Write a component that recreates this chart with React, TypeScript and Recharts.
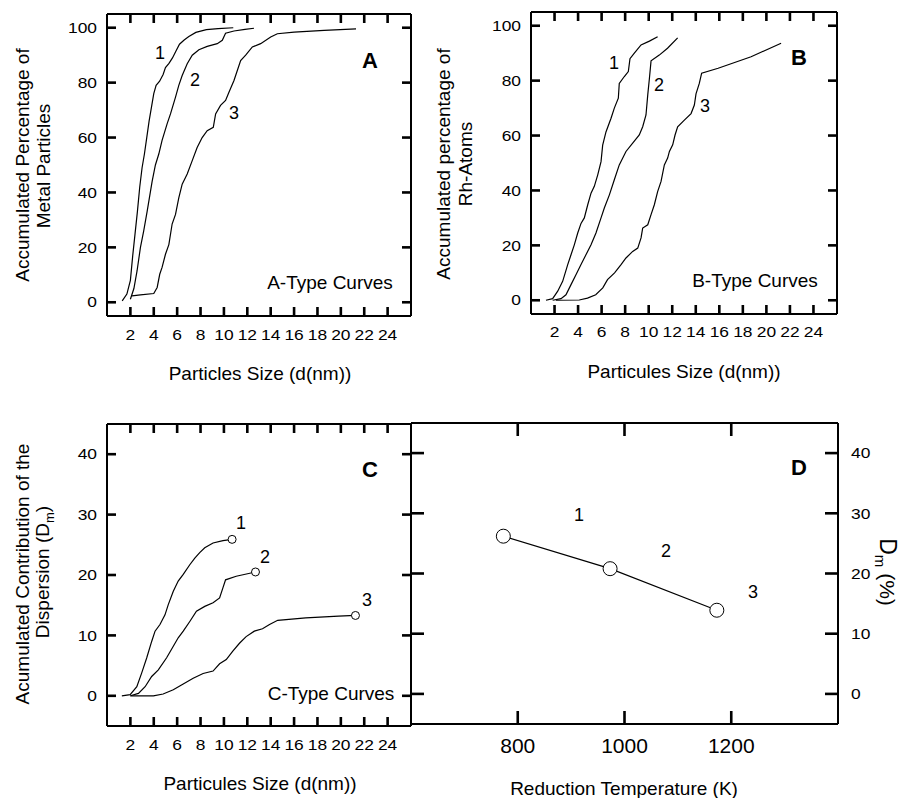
import React from 'react';
import { LineChart, Line, XAxis, YAxis, ReferenceDot } from 'recharts';

type Pt = { x: number; y: number };
const mk = (arr: number[][]): Pt[] => arr.map(([x, y]) => ({ x, y }));

// ---------- tick values ----------
const sizeTicks = [2, 4, 6, 8, 10, 12, 14, 16, 18, 20, 22, 24];
const pctTicks = [0, 20, 40, 60, 80, 100];
const dmTicks = [0, 10, 20, 30, 40];
const tempTicks = [800, 1000, 1200];

// ---------- Panel A : accumulated percentage of metal particles ----------
const aCurve1 = mk([
  [1.3, 0.5], [1.7, 3], [2.0, 8], [2.2, 17], [2.4, 25], [2.6, 33], [2.8, 42], [3.0, 49],
  [3.2, 54], [3.4, 60], [3.6, 66], [3.8, 71], [4.0, 76], [4.2, 79], [4.5, 80.5], [4.8, 83],
  [5.0, 85.5], [5.3, 87], [5.6, 89], [5.9, 91.5], [6.2, 94], [6.6, 95.5], [7.0, 96.8],
  [7.6, 98.3], [8.5, 99.3], [9.5, 99.7], [10.8, 100],
]);
const aCurve2 = mk([
  [2.0, 1.1], [2.3, 5], [2.57, 11.4], [2.86, 20], [3.14, 26], [3.43, 33], [3.86, 44],
  [4.14, 50], [4.43, 54], [4.71, 59], [5.14, 65], [5.43, 68.6], [5.86, 74.7], [6.14, 79],
  [6.43, 82.6], [6.86, 86.9], [7.29, 90], [7.86, 92], [8.57, 93.2], [9.43, 94.2],
  [9.86, 95.4], [10.14, 98], [10.86, 98.8], [11.8, 99.4], [12.57, 99.8],
]);
const aCurve3 = mk([
  [2.14, 2.3], [2.86, 2.7], [4.0, 3.2], [4.29, 5.4], [4.51, 10.2], [4.71, 12.7], [5.0, 17.5],
  [5.29, 21], [5.57, 28.5], [5.86, 32], [6.14, 38], [6.43, 43], [6.86, 46.7], [7.29, 51.6],
  [7.71, 56.4], [8.14, 60], [8.57, 62.5], [9.09, 63.7], [9.29, 68.6], [9.71, 71.7],
  [10.14, 73.5], [10.43, 76.5], [10.86, 80.8], [11.43, 88], [11.86, 90], [12.43, 93],
  [13.14, 94.2], [14.0, 96.6], [14.57, 97.8], [16.0, 98.4], [18.57, 99], [21.3, 99.6],
]);

// ---------- Panel B : accumulated percentage of Rh atoms ----------
const bCurve1 = mk([
  [1.27, 0], [1.84, 0.6], [2.27, 3.3], [2.69, 6.9], [3.12, 13], [3.4, 16.6], [3.68, 20.2],
  [3.97, 24.5], [4.25, 28], [4.53, 30], [4.82, 34.8], [5.1, 39], [5.38, 41.5], [5.67, 45.7],
  [5.95, 50.5], [6.09, 56.5], [6.37, 61.3], [6.8, 66.3], [7.08, 70], [7.42, 73.6], [7.5, 79],
  [7.93, 81.5], [8.27, 83.3], [8.41, 88], [8.78, 90], [9.35, 93], [10.06, 94.4], [10.76, 96],
]);
const bCurve2 = mk([
  [1.84, 0], [2.55, 0.6], [2.97, 2], [3.4, 5.7], [3.82, 9.3], [4.25, 13], [4.67, 16.6],
  [5.1, 20.2], [5.52, 24.5], [5.95, 30], [6.23, 33.6], [6.66, 38.4], [7.08, 43.9], [7.5, 49.3],
  [8.07, 54.2], [8.64, 57.2], [9.2, 60.2], [9.49, 63.2], [9.77, 67.5], [9.92, 74.8],
  [10.06, 80.8], [10.2, 87.2], [10.9, 89.3], [11.6, 91.8], [12.46, 95.6],
]);
const bCurve3 = mk([
  [2.12, 0], [4.1, 0.1], [4.8, 0.8], [5.5, 2], [6.1, 4.5], [6.5, 7.5], [7.1, 10], [7.65, 13],
  [8.07, 15.4], [8.64, 17.8], [9.07, 19], [9.35, 22.7], [9.49, 26.3], [9.92, 27.5],
  [10.2, 31.2], [10.48, 34.8], [10.76, 39.6], [11.05, 43.3], [11.33, 49.3], [11.61, 51.8],
  [11.76, 54.2], [12.04, 56.6], [12.24, 60.2], [12.46, 63.2], [13.03, 65.6], [13.6, 68],
  [13.88, 71.1], [14.02, 75.2], [14.3, 79], [14.5, 82.7], [15.9, 84.5], [18.7, 88.7],
  [21.25, 93.6],
]);

// ---------- Panel C : accumulated contribution of the dispersion ----------
const cCurve1 = mk([
  [1.27, 0], [1.98, 0.2], [2.55, 1.5], [2.97, 3.8], [3.4, 6.3], [3.82, 9], [4.11, 10.7],
  [4.53, 11.8], [4.96, 13.4], [5.24, 15.1], [5.67, 17.3], [6.09, 19], [6.52, 20.1],
  [7.08, 21.7], [7.51, 22.8], [7.93, 23.7], [8.36, 24.5], [9.07, 25.3], [9.92, 25.7],
  [10.7, 25.9],
]);
const cCurve2 = mk([
  [2.0, 0], [2.69, 0.4], [3.26, 1.5], [3.82, 3.2], [4.39, 4.3], [5.1, 6.3], [5.67, 8.2],
  [6.09, 9.6], [6.52, 10.7], [7.08, 12.3], [7.65, 14], [8.36, 14.8], [9.07, 15.4],
  [9.63, 16.2], [9.92, 17.9], [10.14, 19.2], [11.05, 19.8], [12.7, 20.5],
]);
const cCurve3 = mk([
  [2.0, 0], [3.97, 0], [4.8, 0.3], [5.67, 1], [6.37, 1.8], [7.37, 2.9], [8.22, 3.7],
  [9.07, 4.1], [9.63, 5.3], [10.2, 6], [10.76, 7.4], [11.33, 8.7], [11.9, 9.8], [12.6, 10.7],
  [13.3, 11.1], [13.9, 11.8], [14.6, 12.5], [17, 12.9], [19.8, 13.2], [21.25, 13.3],
]);

// ---------- Panel D : Dm vs reduction temperature ----------
const dTemps = [773, 973, 1173];
const dValues = [26.2, 20.8, 13.9];
const dSeries: Pt[] = dTemps.map((x, i) => ({ x, y: dValues[i] }));

const FONT = "'Liberation Sans', Arial, Helvetica, sans-serif";
const BLACK = '#000';

// ---------- tick label renderers ----------
const bottomLabel = (fs: number, dy: number, sx: number) => (p: any) => (
  <text transform={`translate(${p.x},${p.y + dy}) scale(${sx},1)`} textAnchor="middle"
    fontSize={fs} fontFamily={FONT} fill={BLACK}>{p.payload.value}</text>
);
const noLabel = () => <g />;
const leftLabel = (fs: number, gap: number, sx: number) => (p: any) => (
  <text transform={`translate(${p.x - gap},${p.y + fs * 0.36}) scale(${sx},1)`} textAnchor="end"
    fontSize={fs} fontFamily={FONT} fill={BLACK}>{p.payload.value}</text>
);
const rightLabel = (fs: number, gap: number, sx: number) => (p: any) => (
  <text transform={`translate(${p.x + gap},${p.y + fs * 0.36}) scale(${sx},1)`} textAnchor="start"
    fontSize={fs} fontFamily={FONT} fill={BLACK}>{p.payload.value}</text>
);

type Box = { left: number; top: number; width: number; height: number };
interface PanelCfg {
  id: string;
  plot: Box;
  xDomain: [number, number];
  yDomain: [number, number];
  xTicks: number[];
  yTicks: number[];
  tickLen: number;
  bottomLabelFont: number;
  bottomDy: number;
  bottomScale: number;
  leftLabels: boolean;
  rightLabels: boolean;
}

const panelA: PanelCfg = {
  id: 'A', plot: { left: 107, top: 14, width: 304, height: 302 }, xDomain: [0, 26], yDomain: [-5, 105],
  xTicks: sizeTicks, yTicks: pctTicks, tickLen: 9, bottomLabelFont: 14.5, bottomDy: 24, bottomScale: 1.2,
  leftLabels: true, rightLabels: false,
};
const panelB: PanelCfg = {
  id: 'B', plot: { left: 531, top: 12, width: 306, height: 302 }, xDomain: [0, 26], yDomain: [-5, 105],
  xTicks: sizeTicks, yTicks: pctTicks, tickLen: 9, bottomLabelFont: 14.5, bottomDy: 23, bottomScale: 1.2,
  leftLabels: true, rightLabels: false,
};
const panelC: PanelCfg = {
  id: 'C', plot: { left: 107, top: 424, width: 304, height: 302 }, xDomain: [0, 26], yDomain: [-5, 45],
  xTicks: sizeTicks, yTicks: dmTicks, tickLen: 9, bottomLabelFont: 14.5, bottomDy: 24, bottomScale: 1.2,
  leftLabels: true, rightLabels: false,
};
const panelD: PanelCfg = {
  id: 'D', plot: { left: 411, top: 423, width: 427, height: 301 }, xDomain: [600, 1400], yDomain: [-5, 45],
  xTicks: tempTicks, yTicks: dmTicks, tickLen: 13, bottomLabelFont: 21, bottomDy: 29, bottomScale: 1,
  leftLabels: false, rightLabels: true,
};

const PAD_L = 60, PAD_R = 60, PAD_T = 40, PAD_B = 40;
const axisLine = { stroke: BLACK, strokeWidth: 2 };

function Panel({ cfg, children }: { cfg: PanelCfg; children?: React.ReactNode }) {
  const { plot, xDomain, yDomain, xTicks, yTicks } = cfg;
  const common = {
    allowDataOverflow: true,
    interval: 0 as const,
    tickSize: 0,
    tickMargin: 0,
    tickLine: false,
    axisLine,
  };
  return (
    <div style={{ position: 'absolute', left: plot.left - PAD_L, top: plot.top - PAD_T }}>
      <LineChart
        width={plot.width + PAD_L + PAD_R}
        height={plot.height + PAD_T + PAD_B}
        margin={{ top: 20, right: 20, bottom: 20, left: 20 }}
      >
        <XAxis type="number" dataKey="x" domain={xDomain} ticks={xTicks} orientation="bottom" height={20}
          {...common} tick={bottomLabel(cfg.bottomLabelFont, cfg.bottomDy, cfg.bottomScale)} />
        <XAxis xAxisId="top" type="number" dataKey="x" domain={xDomain} ticks={xTicks} orientation="top" height={20}
          {...common} tick={noLabel} />
        <YAxis type="number" domain={yDomain} ticks={yTicks} orientation="left" width={40}
          {...common} tick={cfg.leftLabels ? leftLabel(14.5, 10, 1.2) : noLabel} />
        <YAxis yAxisId="right" type="number" domain={yDomain} ticks={yTicks} orientation="right" width={40}
          {...common} tick={cfg.rightLabels ? rightLabel(14.5, 13, 1.2) : noLabel} />
        {children}
      </LineChart>
    </div>
  );
}

// inward tick marks for a panel's frame (same linear mapping as the panel's axes), drawn as filled bars
const TW = 2.6;
function TickMarks({ cfg }: { cfg: PanelCfg }) {
  const { plot, xDomain, yDomain, xTicks, yTicks, tickLen } = cfg;
  const sx = (v: number) => plot.left + ((v - xDomain[0]) / (xDomain[1] - xDomain[0])) * plot.width;
  const sy = (v: number) => plot.top + ((yDomain[1] - v) / (yDomain[1] - yDomain[0])) * plot.height;
  const bottom = plot.top + plot.height;
  const right = plot.left + plot.width;
  return (
    <g fill={BLACK}>
      {xTicks.map((t) => (
        <g key={`x${t}`}>
          <rect x={sx(t) - TW / 2} y={bottom - tickLen} width={TW} height={tickLen} />
          <rect x={sx(t) - TW / 2} y={plot.top} width={TW} height={tickLen} />
        </g>
      ))}
      {yTicks.map((t) => (
        <g key={`y${t}`}>
          <rect x={plot.left} y={sy(t) - TW / 2} width={tickLen} height={TW} />
          <rect x={right - tickLen} y={sy(t) - TW / 2} width={tickLen} height={TW} />
        </g>
      ))}
    </g>
  );
}

const curveLine = (data: Pt[], key: string) => (
  <Line key={key} data={data} dataKey="y" type="linear" stroke={BLACK} strokeWidth={1.2}
    dot={false} activeDot={false} isAnimationActive={false} />
);

const endDot = (data: Pt[], key: string) => {
  const last = data[data.length - 1];
  return <ReferenceDot key={key} x={last.x} y={last.y} r={4} fill="#fff" stroke={BLACK} strokeWidth={1} />;
};

const T = (p: { x: number; y: number; size?: number; bold?: boolean; anchor?: string; rot?: number; children: React.ReactNode }) => (
  <text
    transform={`translate(${p.x},${p.y})${p.rot ? ` rotate(${p.rot})` : ''}`}
    x={0} y={0}
    textAnchor={(p.anchor as any) || 'middle'}
    fontSize={p.size || 19}
    fontWeight={p.bold ? 'bold' : 'normal'}
    fontFamily={FONT}
    fill={BLACK}
  >
    {p.children}
  </text>
);

export default function App() {
  return (
    <div style={{ position: 'absolute', left: 0, top: 0, width: 902, height: 798, background: '#fff', overflow: 'hidden' }}>
      <Panel cfg={panelA}>
        {curveLine(aCurve1, 'a1')}
        {curveLine(aCurve2, 'a2')}
        {curveLine(aCurve3, 'a3')}
      </Panel>

      <Panel cfg={panelB}>
        {curveLine(bCurve1, 'b1')}
        {curveLine(bCurve2, 'b2')}
        {curveLine(bCurve3, 'b3')}
      </Panel>

      <Panel cfg={panelC}>
        {curveLine(cCurve1, 'c1')}
        {curveLine(cCurve2, 'c2')}
        {curveLine(cCurve3, 'c3')}
        {endDot(cCurve1, 'e1')}
        {endDot(cCurve2, 'e2')}
        {endDot(cCurve3, 'e3')}
      </Panel>

      <Panel cfg={panelD}>
        <Line data={dSeries} dataKey="y" type="linear" stroke={BLACK} strokeWidth={1.2}
          dot={{ r: 7, fill: '#fff', stroke: BLACK, strokeWidth: 1 }} activeDot={false} isAnimationActive={false} />
      </Panel>

      {/* Overlay: frame tick marks and texts */}
      <svg width={902} height={798} style={{ position: 'absolute', left: 0, top: 0, pointerEvents: 'none' }}>
        <TickMarks cfg={panelA} />
        <TickMarks cfg={panelB} />
        <TickMarks cfg={panelC} />
        <TickMarks cfg={panelD} />

        {/* A */}
        <T x={29} y={165} rot={-90}>Accumulated Percentage of</T>
        <T x={50} y={166} rot={-90}>Metal Particles</T>
        <T x={260} y={380}>Particles Size (d(nm))</T>
        <T x={370} y={68} size={22} bold>A</T>
        <T x={330} y={289}>A-Type Curves</T>
        <T x={160} y={59} size={18}>1</T>
        <T x={195} y={86} size={18}>2</T>
        <T x={234} y={119} size={18}>3</T>

        {/* B */}
        <T x={450} y={164} rot={-90}>Accumulated percentage of</T>
        <T x={472} y={164} rot={-90}>Rh-Atoms</T>
        <T x={684} y={378}>Particules Size (d(nm))</T>
        <T x={799} y={65} size={22} bold>B</T>
        <T x={755} y={287}>B-Type Curves</T>
        <T x={614} y={69} size={18}>1</T>
        <T x={659} y={91} size={18}>2</T>
        <T x={705} y={112} size={18}>3</T>

        {/* C */}
        <T x={29} y={574} rot={-90}>Acumulated Contribution of the</T>
        <T x={49} y={572} rot={-90}>
          Dispersion (D<tspan fontSize={13} dy={5}>m</tspan><tspan dy={-5}>)</tspan>
        </T>
        <T x={260} y={790}>Particules Size (d(nm))</T>
        <T x={370} y={477} size={22} bold>C</T>
        <T x={331} y={700}>C-Type Curves</T>
        <T x={241} y={529} size={18}>1</T>
        <T x={265} y={563} size={18}>2</T>
        <T x={367} y={606} size={18}>3</T>

        {/* D */}
        <T x={799} y={475} size={22} bold>D</T>
        <T x={579} y={521} size={18}>1</T>
        <T x={666} y={557} size={18}>2</T>
        <T x={753} y={598} size={18}>3</T>
        <T x={624} y={795}>Reduction Temperature (K)</T>
        <T x={880} y={572} rot={90} size={23}>
          D<tspan fontSize={15} dy={5}>m</tspan><tspan fontSize={21} dy={-5}> (%)</tspan>
        </T>
      </svg>
    </div>
  );
}
